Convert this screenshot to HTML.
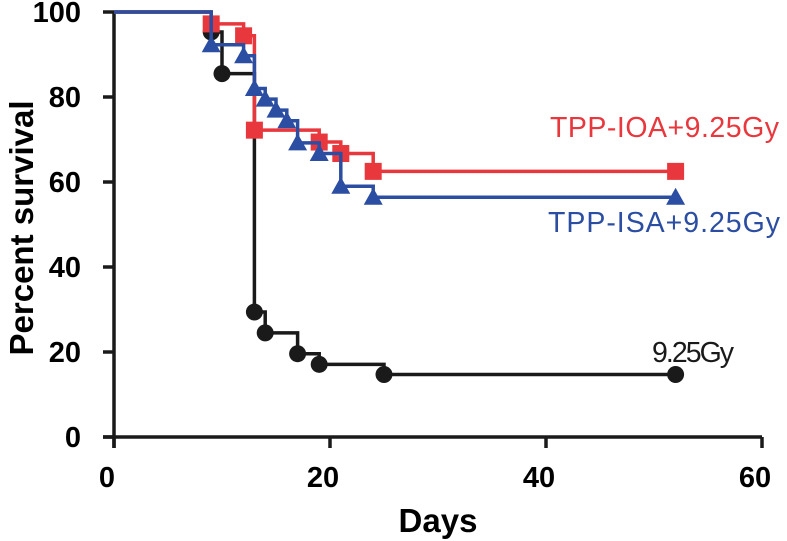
<!DOCTYPE html>
<html><head><meta charset="utf-8"><style>
html,body{margin:0;padding:0;background:#fff;}
svg{display:block;font-family:"Liberation Sans",Arial,sans-serif;}
</style></head><body>
<svg id="chart" width="787" height="541" viewBox="0 0 787 541">
<g id="axes"></g>
<g id="series"></g>
<text x="438" y="532" font-size="33" font-weight="bold" text-anchor="middle">Days</text>
<text transform="translate(33,228) rotate(-90)" font-size="33" font-weight="bold" text-anchor="middle">Percent survival</text>
<text x="550" y="137" font-size="28.5" fill="#e8383d" textLength="229">TPP-IOA+9.25Gy</text>
<text x="548" y="232" font-size="28.5" fill="#2b4ea2" textLength="232">TPP-ISA+9.25Gy</text>
<text x="652" y="362" font-size="28.5" fill="#1a1a1a" textLength="82">9.25Gy</text>
</svg>
<script>
const xTicks=[0,20,40,60];
const yTicks=[0,20,40,60,80,100];
const ctrlT=[0,9,10,13,14,17,19,25];
const ctrlS=[100,95.3,85.5,29.4,24.5,19.6,17.1,14.7];
const ioaT=[0,9,12,13,19,21,24];
const ioaS=[100,97.2,94.4,72.2,69.4,66.7,62.5];
const isaT=[0,9,12,13,14,15,16,17,19,21,24];
const isaS=[100,92.3,89.7,82,79.5,76.9,74.4,69.2,66.7,59,56.4];
const endT=52;
const NS="http://www.w3.org/2000/svg";
function X(d){return 114+d*(762-114)/60;}
function Y(v){return 437-v*(437-12)/100;}
function mk(tag,attrs,parent){const e=document.createElementNS(NS,tag);for(const k in attrs)e.setAttribute(k,attrs[k]);parent.appendChild(e);return e;}
const ax=document.getElementById('axes');
let l=mk('line',{x1:X(0)-11,y1:Y(0),x2:X(60),y2:Y(0),stroke:'#1a1a1a','stroke-width':3.5},ax);


l=mk('line',{x1:X(0),y1:Y(0)+11,x2:X(0),y2:Y(100),stroke:'#1a1a1a','stroke-width':3.5},ax);


xTicks.forEach(t=>{
 const tk=mk('line',{x1:X(t),y1:Y(0),x2:X(t),y2:Y(0)+11,stroke:'#1a1a1a','stroke-width':3.5},ax);
 
 
 const tx=mk('text',{x:X(t)-7,y:487,'font-size':29,'font-weight':'bold','text-anchor':'middle'},ax);
 tx.textContent=t;
 
 
});
yTicks.forEach(t=>{
 const tk=mk('line',{x1:X(0)-11,y1:Y(t),x2:X(0),y2:Y(t),stroke:'#1a1a1a','stroke-width':3.5},ax);
 
 
 const tx=mk('text',{x:81,y:Y(t)+10,'font-size':29,'font-weight':'bold','text-anchor':'end'},ax);
 tx.textContent=t;
 
 
});
const sg=document.getElementById('series');
function draw(T,S,color,shape,name){
 const g=mk('g',{},sg);
 
 
 let d='M'+X(T[0])+','+Y(S[0]);
 for(let i=1;i<T.length;i++){d+=' H'+X(T[i])+' V'+Y(S[i]);}
 d+=' H'+X(endT);
 const p=mk('path',{d:d,fill:'none',stroke:color,'stroke-width':3.5},g);
 
 
 const pts=[];
 for(let i=1;i<T.length;i++)pts.push([T[i],S[i]]);
 pts.push([endT,S[S.length-1]]);
 pts.forEach(q=>{
  const cx=X(q[0]),cy=Y(q[1]);let m;
  if(shape==='circle')m=mk('circle',{cx:cx,cy:cy,r:8.5,fill:color},g);
  else if(shape==='square')m=mk('rect',{x:cx-8.5,y:cy-8.5,width:17,height:17,fill:color},g);
  else m=mk('polygon',{points:(cx-9.5)+','+(cy+7.5)+' '+(cx+9.5)+','+(cy+7.5)+' '+cx+','+(cy-9.5),fill:color},g);
  
  
 });
}
draw(ctrlT,ctrlS,'#1a1a1a','circle','series-9-25gy');
draw(ioaT,ioaS,'#e8383d','square','series-tpp-ioa');
draw(isaT,isaS,'#2b4ea2','triangle','series-tpp-isa');
</script>
</body></html>
